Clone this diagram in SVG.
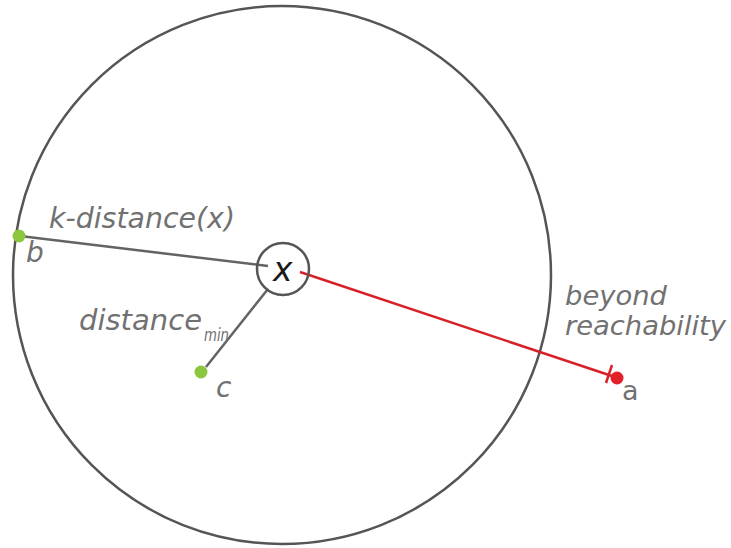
<svg xmlns="http://www.w3.org/2000/svg" width="731" height="548" viewBox="0 0 731 548">
<style>
.lbl{font-family:"DejaVu Sans",Verdana,sans-serif;font-style:italic;fill:#717171;font-size:28px}
.ln{stroke:#636363;stroke-width:2.5;fill:none}
.pt{fill:#8cc63f}
</style>
<rect width="731" height="548" fill="#ffffff"/>
<g id="boundary"><circle cx="282" cy="275" r="269" fill="none" stroke="#555" stroke-width="2.5"/></g>
<g id="connectors">
<line class="ln" x1="20" y1="236" x2="268" y2="266"/>
<line class="ln" x1="268" y1="289" x2="206" y2="367"/>
<line x1="300" y1="272" x2="615" y2="377" stroke="#d8202a" stroke-width="2.5"/>
<line x1="612" y1="365" x2="606" y2="383" stroke="#d8202a" stroke-width="2.5"/>
</g>
<g id="node-x">
<circle cx="283" cy="269" r="26" fill="none" stroke="#555" stroke-width="2.5"/>
<text x="273" y="281" font-family="DejaVu Sans,Verdana,sans-serif" font-style="italic" font-size="33" fill="#1a1a1a">x</text>
</g>
<g id="node-b">
<circle class="pt" cx="19" cy="236" r="6.5"/>
<text class="lbl" x="26" y="262">b</text>
</g>
<g id="node-c">
<circle class="pt" cx="201" cy="372" r="6.5"/>
<text class="lbl" x="216" y="397">c</text>
</g>
<g id="node-a">
<circle cx="617" cy="378" r="6.5" fill="#e3202a"/>
<text class="lbl" x="622" y="400" style="font-style:normal;font-size:27px">a</text>
</g>
<g id="labels">
<text class="lbl" x="49" y="228" textLength="186" lengthAdjust="spacingAndGlyphs">k-distance(x)</text>
<text class="lbl" x="79" y="330" textLength="123" lengthAdjust="spacingAndGlyphs">distance</text>
<text class="lbl" x="204" y="341" style="font-size:17px" textLength="25" lengthAdjust="spacingAndGlyphs">min</text>
<text class="lbl" x="565" y="305" style="font-size:27px" textLength="102" lengthAdjust="spacingAndGlyphs">beyond</text>
<text class="lbl" x="565" y="335" style="font-size:27px" textLength="161" lengthAdjust="spacingAndGlyphs">reachability</text>
</g>
</svg>
